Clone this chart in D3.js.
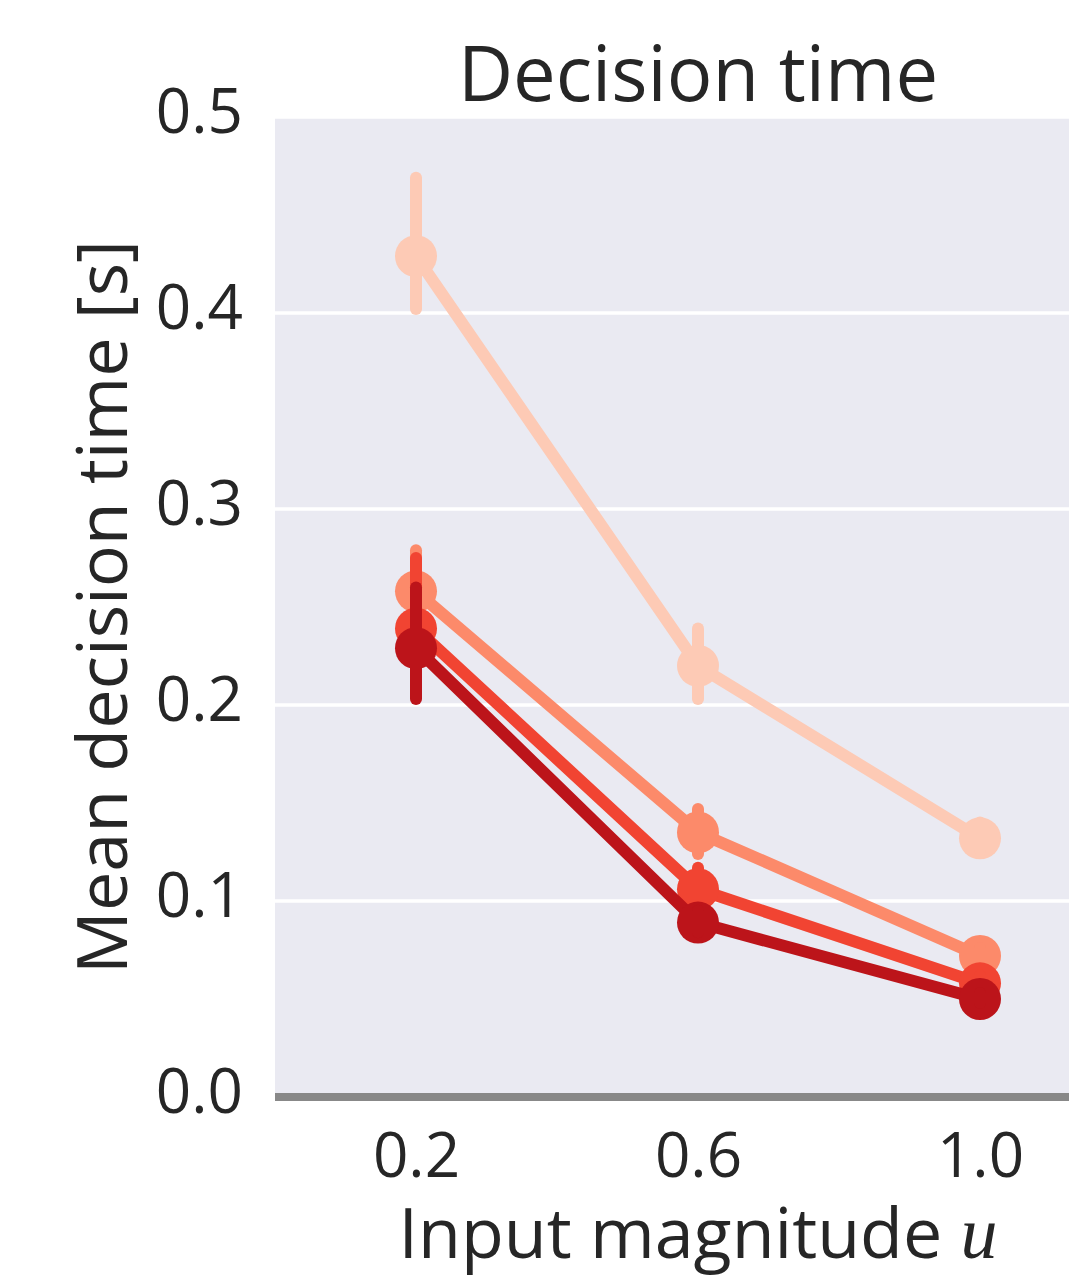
<!DOCTYPE html>
<html><head><meta charset="utf-8">
<script src="https://cdn.jsdelivr.net/npm/d3@7"></script>
<style>body{margin:0;background:#fff}svg{display:block}</style>
</head><body>
<script>
const categories = ["0.2","0.6","1.0"];
const seriesNames = ["s1","s2","s3","s4"];
const colors = ["#fdcab5","#fc8a6a","#f14432","#bc141a"];
const means = [
  [0.429, 0.220, 0.132],
  [0.258, 0.135, 0.072],
  [0.239, 0.106, 0.058],
  [0.229, 0.089, 0.050]
];
const ciLow = [
  [0.402, 0.203, 0.126],
  [0.238, 0.124, 0.068],
  [0.210, 0.097, 0.055],
  [0.203, 0.084, 0.048]
];
const ciHigh = [
  [0.469, 0.239, 0.140],
  [0.279, 0.147, 0.076],
  [0.275, 0.117, 0.062],
  [0.260, 0.095, 0.053]
];
const yTicks = [0.0, 0.1, 0.2, 0.3, 0.4, 0.5];

const W = 1069, H = 1276;
const pL = 275, pR = 1121, pT = 117, pB = 1097;
const svg = d3.select("body").append("svg").attr("width", W).attr("height", H);

const x = d3.scalePoint().domain(categories).range([pL, pR]).padding(0.5);
const y = d3.scaleLinear().domain([0, 0.5]).range([pB, pT]);

svg.append("rect").attr("x", pL).attr("y", pT).attr("width", pR-pL).attr("height", pB-pT).attr("fill", "#eaeaf2");

// grid
svg.append("g").selectAll("line").data(yTicks.slice(1)).join("line")
  .attr("x1", pL).attr("x2", pR).attr("y1", d=>y(d)).attr("y2", d=>y(d))
  .attr("stroke", "#fff").attr("stroke-width", 3.5);

// bottom spine
svg.append("line").attr("x1", pL).attr("x2", pR).attr("y1", pB).attr("y2", pB)
  .attr("stroke", "#888").attr("stroke-width", 8);

// y axis
const yAxis = d3.axisLeft(y).tickValues(yTicks).tickFormat(d3.format(".1f")).tickSize(0).tickPadding(32);
const ga = svg.append("g").attr("transform", `translate(${pL},0)`).call(yAxis);
ga.select(".domain").remove();
ga.selectAll("text").attr("font-family", "Open Sans").attr("font-size", 62).attr("fill", "#262626").attr("dy", "0.25em");

// x axis
const xAxis = d3.axisBottom(x).tickSize(0).tickPadding(36);
const gx = svg.append("g").attr("transform", `translate(0,${pB})`).call(xAxis);
gx.select(".domain").remove();
gx.selectAll("text").attr("font-family", "Open Sans").attr("font-size", 62).attr("fill", "#262626");

// series
const line = d3.line().x((d,i)=>x(categories[i])).y(d=>y(d));
seriesNames.forEach((s, k) => {
  const g = svg.append("g");
  g.append("path").attr("d", line(means[k])).attr("fill","none").attr("stroke", colors[k])
    .attr("stroke-width", 12).attr("stroke-linejoin","round");
  g.selectAll("circle").data(means[k]).join("circle")
    .attr("cx", (d,i)=>x(categories[i])).attr("cy", d=>y(d)).attr("r", 21).attr("fill", colors[k]);
  g.selectAll("line.err").data(categories).join("line").attr("class","err")
    .attr("x1", c=>x(c)).attr("x2", c=>x(c))
    .attr("y1", (c,i)=>y(ciLow[k][i])).attr("y2", (c,i)=>y(ciHigh[k][i]))
    .attr("stroke", colors[k]).attr("stroke-width", 12).attr("stroke-linecap","round");
});

// title
svg.append("text").attr("x", (pL+pR)/2).attr("y", 101).attr("text-anchor","middle")
  .attr("font-family","Open Sans").attr("font-size", 76).attr("fill","#262626").text("Decision time");

// x label
const xl = svg.append("text").attr("x", (pL+pR)/2).attr("y", 1258).attr("text-anchor","middle")
  .attr("font-family","Open Sans").attr("font-size", 70).attr("fill","#262626");
xl.append("tspan").text("Input magnitude ");
xl.append("tspan").attr("font-family","Liberation Serif").attr("font-style","italic").attr("font-size", 74).text("u");

// y label
svg.append("text").attr("transform", `translate(127,${(pT+pB)/2}) rotate(-90)`).attr("text-anchor","middle")
  .attr("font-family","Open Sans").attr("font-size", 70).attr("fill","#262626").text("Mean decision time [s]");
</script>
</body></html>
